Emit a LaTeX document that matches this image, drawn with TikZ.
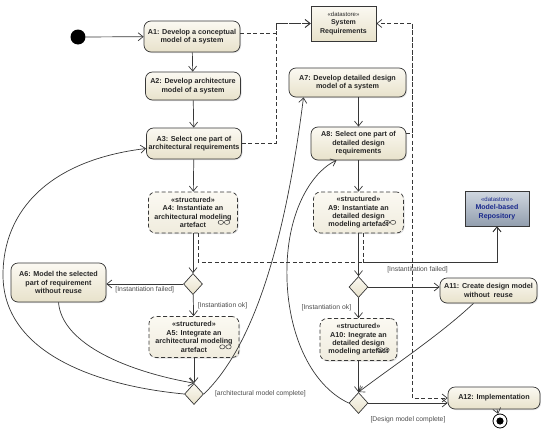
\documentclass[tikz,border=0pt]{standalone}
\usepackage{fontspec}
\setsansfont{Liberation Sans}
\usetikzlibrary{shapes.geometric, arrows.meta, positioning, shadows}

\definecolor{acttop}{RGB}{251,249,242}
\definecolor{actfill}{RGB}{232,226,203}
\definecolor{strfill}{RGB}{240,236,222}
\definecolor{edgec}{RGB}{55,55,55}
\definecolor{repotop}{RGB}{208,215,224}
\definecolor{repofill}{RGB}{146,158,174}
\definecolor{repotext}{RGB}{25,40,140}

% little expansion icon of a structured node
\newcommand{\expicon}[1]{\draw[edgec, line width=0.5pt] ([xshift=-17pt,yshift=11pt]#1.south east) ellipse (2.7pt and 2.1pt) ++(2.7pt,0) -- ++(0.8pt,0) ++(2.7pt,0) ellipse (2.7pt and 2.1pt);}

\begin{document}
\begin{tikzpicture}[
    x=1pt, y=-1pt,
    action/.style={rectangle, rounded corners=7pt, draw=edgec, line width=0.7pt, top color=acttop, bottom color=actfill, align=center, inner sep=1.5pt, text=black!85, font=\sffamily\bfseries\fontsize{7.2}{8.4}\selectfont, drop shadow={shadow xshift=1pt, shadow yshift=-1pt, opacity=0.25}},
    structured/.style={action, dash pattern=on 4pt off 2.5pt, bottom color=strfill},
    datastore/.style={rectangle, draw=edgec, line width=0.7pt, top color=acttop, bottom color=actfill, align=center, inner sep=1.5pt, text=black!85, font=\sffamily\bfseries\fontsize{7}{8.2}\selectfont, drop shadow={shadow xshift=1.2pt, shadow yshift=-1.2pt, opacity=0.35}},
    repository/.style={datastore, top color=repotop, bottom color=repofill, text=repotext},
    decision/.style={diamond, draw=edgec, line width=0.7pt, top color=acttop, bottom color=actfill, minimum width=19pt, minimum height=21pt, inner sep=0pt},
    initial/.style={circle, fill=black, minimum size=15pt, inner sep=0pt},
    final/.style={circle, draw=black, fill=white, line width=0.8pt, minimum size=14pt, inner sep=0pt, path picture={\fill[black] (path picture bounding box.center) circle (3.6pt);}},
    guard/.style={font=\sffamily\fontsize{6.8}{8}\selectfont, text=black!70, inner sep=1pt},
    flow/.style={draw=edgec, line width=0.7pt, -{Straight Barb[length=5pt,width=8pt]}},
    objflow/.style={flow, dash pattern=on 4pt off 2.5pt}
]
\useasboundingbox (0,0) rectangle (541,434);

% architecture column
\node[initial] (start) at (78, 37) {};
\node[action, minimum width=96pt, minimum height=31pt] (A1) at (192, 36.5) {A1: Develop a conceptual\\model of a system};
\node[action, minimum width=95pt, minimum height=28pt] (A2) at (193, 86) {A2: Develop architecture\\model of a system};
\node[action, minimum width=95pt, minimum height=31pt] (A3) at (194, 143.5) {A3: Select one part of\\architectural requirements};
\node[structured, minimum width=89pt, minimum height=41pt] (A4) at (193, 212.5) {«structured»\\A4: Instantiate an\\architectural modeling\\artefact};
\node[decision] (D1) at (193, 284) {};
\node[action, minimum width=95pt, minimum height=39pt] (A6) at (58.5, 282.5) {A6: Model the selected\\part of requirement\\without reuse};
\node[structured, minimum width=90pt, minimum height=41pt] (A5) at (194, 337) {«structured»\\A5: Integrate an\\architectural modeling\\artefact};
\node[decision] (D2) at (194, 394) {};

% design column
\node[datastore, minimum width=65pt, minimum height=35pt] (SysReq) at (343.5, 23.5) {{\mdseries\fontsize{6}{7}\selectfont «datastore»}\\System\\Requirements};
\node[action, minimum width=117pt, minimum height=29pt] (A7) at (347.5, 82.5) {A7: Develop detailed design\\model of a system};
\node[action, minimum width=95pt, minimum height=33pt] (A8) at (358.5, 143.5) {A8: Select one part of\\detailed design\\requirements};
\node[structured, minimum width=90pt, minimum height=41pt] (A9) at (358.5, 212.5) {«structured»\\A9: Instantiate an\\detailed design\\modeling artefact};
\node[repository, minimum width=64pt, minimum height=35pt] (Repo) at (497, 208.5) {{\mdseries\fontsize{6}{7}\selectfont «datastore»}\\Model-based\\Repository};
\node[decision] (D3) at (358.5, 287) {};
\node[action, minimum width=97pt, minimum height=25pt] (A11) at (488.5, 290.5) {A11: Create design model\\without\ \ reuse};
\node[structured, minimum width=77pt, minimum height=42pt] (A10) at (358.5, 339.5) {«structured»\\A10: Inegrate an\\detailed design\\modeling artefact};
\node[decision] (D4) at (358.5, 403) {};
\node[action, minimum width=92pt, minimum height=22pt] (A12) at (494, 398) {A12: Implementation};
\node[final] (stop) at (500, 421) {};

\expicon{A4}
\expicon{A5}
\expicon{A9}
\expicon{A10}

% bus points of the object flows
\coordinate (lbus) at (276, 23.5);
\coordinate (rbus) at (412, 23.5);
\coordinate (repbus) at (497, 262);

% control flows
\draw[flow] (start) -- (A1);
\draw[flow] (A1) -- (A2);
\draw[flow] (A2) -- (A3);
\draw[flow] (A3) -- (A4);
\draw[flow] (A4) -- (D1);
\draw[flow] (D1.west) -- (D1.west -| A6.east) node[guard, midway, below=1.5pt] {[Instantiation failed]};
\draw[flow] (D1) -- (A5) node[guard, midway, right=3pt] {[Instantiation ok]};
\draw[flow] (A5) -- (D2);
\draw[flow] (A6.south) .. controls (62, 345) and (130, 372) .. (D2.north);
\draw[flow] (D2.west) .. controls (90, 385) and (3, 350) .. (3, 275) .. controls (3, 210) and (50, 160) .. ([yshift=-5pt]A3.west);
\draw[flow] (D2.east) .. controls (260, 340) and (288, 220) .. ([xshift=-44pt]A7.south);
\node[guard, right=10pt of D2] (gArch) {[architectural model complete]};

\draw[flow] (A7.south -| A8.north) -- (A8.north);
\draw[flow] (A8) -- (A9);
\draw[flow] (A9) -- (D3);
\draw[flow] (D3) -- (D3 -| A11.west) node[guard, pos=0.69, above=13pt] {[Instantitation failed]};
\draw[flow] (D3) -- (A10) node[guard, midway, left=6pt] {[Instantiation ok]};
\draw[flow] (A10) -- (D4);
\draw[flow] ([xshift=-15pt]A11.south) .. controls (440, 335) and (390, 368) .. (D4.north);
\draw[flow] (D4.west) .. controls (310, 385) and (285, 330) .. (287, 265) .. controls (289, 205) and (315, 170) .. ([xshift=-22pt]A8.south);
\draw[flow] (D4.east) -- (D4.east -| A12.west) node[guard, midway, below=12pt] {[Design model complete]};
\draw[flow] (A12) -- (stop);

% object flows
\draw[objflow] ([yshift=3pt]A1.east) -| (lbus) -- (SysReq.west);
\draw[objflow] (A3.east) -| (lbus) -- (SysReq.west);
\draw[objflow] ([yshift=10pt]A8.east) -| (rbus) -- (SysReq.east);
\draw[objflow] (rbus) |- (A12.west);
\draw[objflow] ([xshift=5pt]A4.south) |- (repbus) -- (Repo.south);
\draw[objflow] ([xshift=5pt]A9.south) |- (repbus) -- (Repo.south);
\end{tikzpicture}
\end{document}
